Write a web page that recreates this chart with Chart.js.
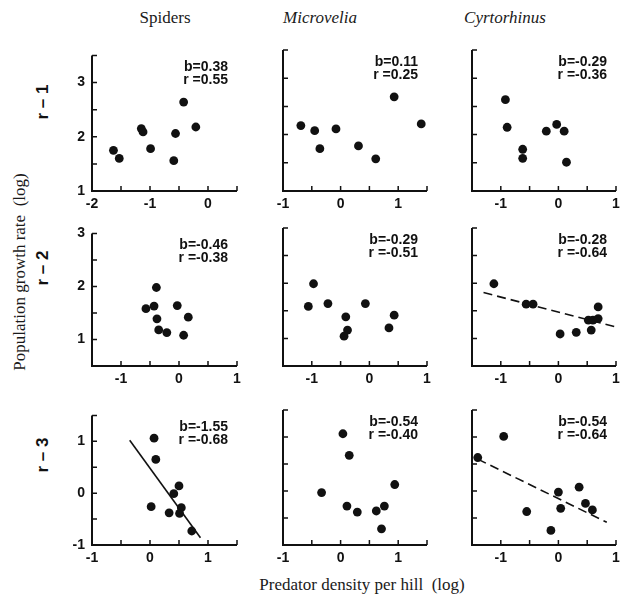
<!DOCTYPE html>
<html>
<head>
<meta charset="utf-8">
<script src="https://cdn.jsdelivr.net/npm/chart.js@4/dist/chart.umd.min.js"></script>
<style>
  html, body { margin: 0; padding: 0; background: #fff; }
  #wrap { position: relative; width: 622px; height: 597px; overflow: hidden; background: #fff; }
  .panel { position: absolute; }
  .serif { position: absolute; font-family: 'Liberation Serif', serif; font-size: 17px; color: #1a1a1a; white-space: nowrap; transform: translate(-50%, -50%); }
  .rowlbl { position: absolute; font-family: 'Liberation Sans', sans-serif; font-weight: bold; font-size: 17px; color: #111; white-space: nowrap; transform: translate(-50%, -50%) rotate(-90deg); }
</style>
</head>
<body>
<div id="wrap">
  <div class="serif" style="left:165px; top:18px;">Spiders</div>
  <div class="serif" style="left:320px; top:18px; font-style:italic;">Microvelia</div>
  <div class="serif" style="left:505px; top:18px; font-style:italic;">Cyrtorhinus</div>
  <div class="serif" style="left:20px; top:272px; transform: translate(-50%, -50%) rotate(-90deg);">Population growth rate&nbsp;&nbsp;(log)</div>
  <div class="rowlbl" style="left:43px; top:102px;">r – 1</div>
  <div class="rowlbl" style="left:43px; top:268px;">r – 2</div>
  <div class="rowlbl" style="left:43px; top:455px;">r – 3</div>
  <div class="serif" style="left:362px; top:585px;">Predator density per hill&nbsp;&nbsp;(log)</div>
</div>
<script>
// ---- data (log predator density vs log growth rate) ----
const spidersR1X = [-1.63, -1.53, -1.15, -1.12, -0.99, -0.59, -0.56, -0.42, -0.21];
const spidersR1Y = [1.75, 1.60, 2.15, 2.09, 1.78, 1.56, 2.06, 2.64, 2.18];
const microR1X = [-0.69, -0.45, -0.36, -0.08, 0.31, 0.61, 0.93, 1.40];
const microR1Y = [2.16, 2.07, 1.75, 2.10, 1.80, 1.57, 2.67, 2.19];
const cyrtoR1X = [-0.92, -0.89, -0.62, -0.62, -0.21, -0.03, 0.10, 0.14];
const cyrtoR1Y = [2.62, 2.13, 1.74, 1.58, 2.06, 2.18, 2.06, 1.51];

const spidersR2X = [-0.57, -0.43, -0.39, -0.38, -0.35, -0.21, -0.03, 0.16, 0.08];
const spidersR2Y = [1.58, 1.63, 1.98, 1.39, 1.18, 1.13, 1.64, 1.42, 1.08];
const microR2X = [-1.06, -0.97, -0.72, -0.41, -0.38, -0.44, -0.07, 0.34, 0.43];
const microR2Y = [1.58, 1.99, 1.63, 1.39, 1.15, 1.04, 1.63, 1.19, 1.42];
const cyrtoR2X = [-1.12, -0.56, -0.44, 0.03, 0.31, 0.52, 0.60, 0.69, 0.57, 0.69];
const cyrtoR2Y = [1.99, 1.62, 1.62, 1.08, 1.11, 1.33, 1.33, 1.36, 1.15, 1.57];

const spidersR3X = [0.07, 0.10, 0.02, 0.33, 0.41, 0.50, 0.54, 0.51, 0.72];
const spidersR3Y = [1.06, 0.65, -0.26, -0.38, -0.01, 0.14, -0.28, -0.39, -0.73];
const microR3X = [-0.33, 0.04, 0.15, 0.11, 0.29, 0.62, 0.76, 0.71, 0.94];
const microR3Y = [-0.03, 1.06, 0.66, -0.28, -0.39, -0.37, -0.28, -0.70, 0.12];
const cyrtoR3X = [-1.40, -0.95, -0.55, -0.13, 0.00, 0.04, 0.36, 0.47, 0.59];
const cyrtoR3Y = [0.62, 1.01, -0.38, -0.73, -0.02, -0.32, 0.07, -0.23, -0.35];

// regression lines (end points)
const cyrtoR2LineX = [-1.30, 1.10];
const cyrtoR2LineY = [1.83, 1.18];
const spidersR3LineX = [-0.35, 0.87];
const spidersR3LineY = [1.02, -0.86];
const cyrtoR3LineX = [-1.40, 0.84];
const cyrtoR3LineY = [0.59, -0.58];

const slopes = ['0.38', '0.11', '-0.29', '-0.46', '-0.29', '-0.28', '-1.55', '-0.54', '-0.54'];
const corrs = ['0.55', '0.25', '-0.36', '-0.38', '-0.51', '-0.64', '-0.68', '-0.40', '-0.64'];

const xRanges = [[-2, 0.5], [-1, 1.5], [-1.5, 1], [-1.5, 1], [-1.5, 1], [-1.5, 1], [-1, 1.5], [-1, 1.5], [-1.5, 1]];
const yRanges = [[1, 3.5], [0.5, 3], [-1, 1.5]];

// ---- layout (pixels) ----
const colLeft = [92, 283, 472];
const colRight = [237, 427, 616];
const rowTop = [50, 228, 410];
const rowBottom = [191, 366, 545];
const Y_AXIS_W = 28, X_AXIS_H = 26, PAD = 10;

const toPts = (xs, ys) => xs.map((x, i) => ({ x, y: ys[i] }));

const panels = [
  { pts: toPts(spidersR1X, spidersR1Y) },
  { pts: toPts(microR1X, microR1Y) },
  { pts: toPts(cyrtoR1X, cyrtoR1Y) },
  { pts: toPts(spidersR2X, spidersR2Y) },
  { pts: toPts(microR2X, microR2Y) },
  { pts: toPts(cyrtoR2X, cyrtoR2Y), line: toPts(cyrtoR2LineX, cyrtoR2LineY), dash: [9, 5] },
  { pts: toPts(spidersR3X, spidersR3Y), line: toPts(spidersR3LineX, spidersR3LineY), dash: [] },
  { pts: toPts(microR3X, microR3Y) },
  { pts: toPts(cyrtoR3X, cyrtoR3Y), line: toPts(cyrtoR3LineX, cyrtoR3LineY), dash: [9, 5] },
];

// axes drawn like the printed figure: L-shaped frame with inward ticks, plus b / r note
const paperAxes = {
  id: 'paperAxes',
  afterDraw(chart, args, opts) {
    const { ctx, chartArea: a, scales: { x, y } } = chart;
    ctx.save();
    ctx.strokeStyle = '#111';
    ctx.lineWidth = 2;
    ctx.beginPath();
    ctx.moveTo(a.left, a.top);
    ctx.lineTo(a.left, a.bottom);
    ctx.lineTo(a.right, a.bottom);
    ctx.stroke();

    ctx.lineWidth = 1.5;
    ctx.beginPath();
    x.ticks.forEach(t => {
      const px = x.getPixelForValue(t.value);
      ctx.moveTo(px, a.bottom);
      ctx.lineTo(px, a.bottom - 5);
    });
    y.ticks.forEach(t => {
      const py = y.getPixelForValue(t.value);
      ctx.moveTo(a.left, py);
      ctx.lineTo(a.left + 5, py);
    });
    ctx.stroke();

    ctx.fillStyle = '#111';
    ctx.font = 'bold 14px "Liberation Sans"';
    ctx.textAlign = 'right';
    ctx.textBaseline = 'alphabetic';
    ctx.fillText('b=' + opts.b, a.right - 9, a.top + 16);
    ctx.fillText('r =' + opts.r, a.right - 9, a.top + 29);
    ctx.restore();
  }
};

const tickFont = { family: 'Liberation Sans', weight: 'bold', size: 14 };
const intLabel = v => (Number.isInteger(v) ? String(v) : '');

const wrap = document.getElementById('wrap');

panels.forEach((p, i) => {
  const row = Math.floor(i / 3), col = i % 3;
  const w = colRight[col] - colLeft[col] + Y_AXIS_W + PAD;
  const h = rowBottom[row] - rowTop[row] + PAD + X_AXIS_H;

  const canvas = document.createElement('canvas');
  canvas.className = 'panel';
  canvas.width = w;
  canvas.height = h;
  canvas.style.left = (colLeft[col] - Y_AXIS_W) + 'px';
  canvas.style.top = (rowTop[row] - PAD) + 'px';
  wrap.appendChild(canvas);

  const datasets = [{
    data: p.pts,
    pointRadius: 4.4,
    pointBackgroundColor: '#111',
    pointBorderColor: '#111',
    pointBorderWidth: 0,
    showLine: false,
  }];
  if (p.line) {
    datasets.push({
      data: p.line,
      showLine: true,
      pointRadius: 0,
      borderColor: '#111',
      borderWidth: 1.6,
      borderDash: p.dash,
    });
  }

  new Chart(canvas, {
    type: 'scatter',
    data: { datasets },
    plugins: [paperAxes],
    options: {
      responsive: false,
      animation: false,
      events: [],
      layout: { padding: { top: PAD, right: PAD, left: 0, bottom: 0 } },
      plugins: {
        legend: { display: false },
        tooltip: { enabled: false },
        paperAxes: { b: slopes[i], r: corrs[i] },
      },
      scales: {
        x: {
          type: 'linear',
          min: xRanges[i][0],
          max: xRanges[i][1],
          grid: { display: false, drawTicks: false },
          border: { display: false },
          ticks: { stepSize: 0.5, autoSkip: false, maxRotation: 0, padding: 5, color: '#111', font: tickFont, callback: intLabel },
          afterFit: s => { s.height = X_AXIS_H; },
        },
        y: {
          type: 'linear',
          min: yRanges[row][0],
          max: yRanges[row][1],
          grid: { display: false, drawTicks: false },
          border: { display: false },
          ticks: { stepSize: 0.5, autoSkip: false, padding: 7, color: '#111', font: tickFont, callback: intLabel, display: col === 0 },
          afterFit: s => { s.width = Y_AXIS_W; },
        },
      },
    },
  });
});
</script>
</body>
</html>
